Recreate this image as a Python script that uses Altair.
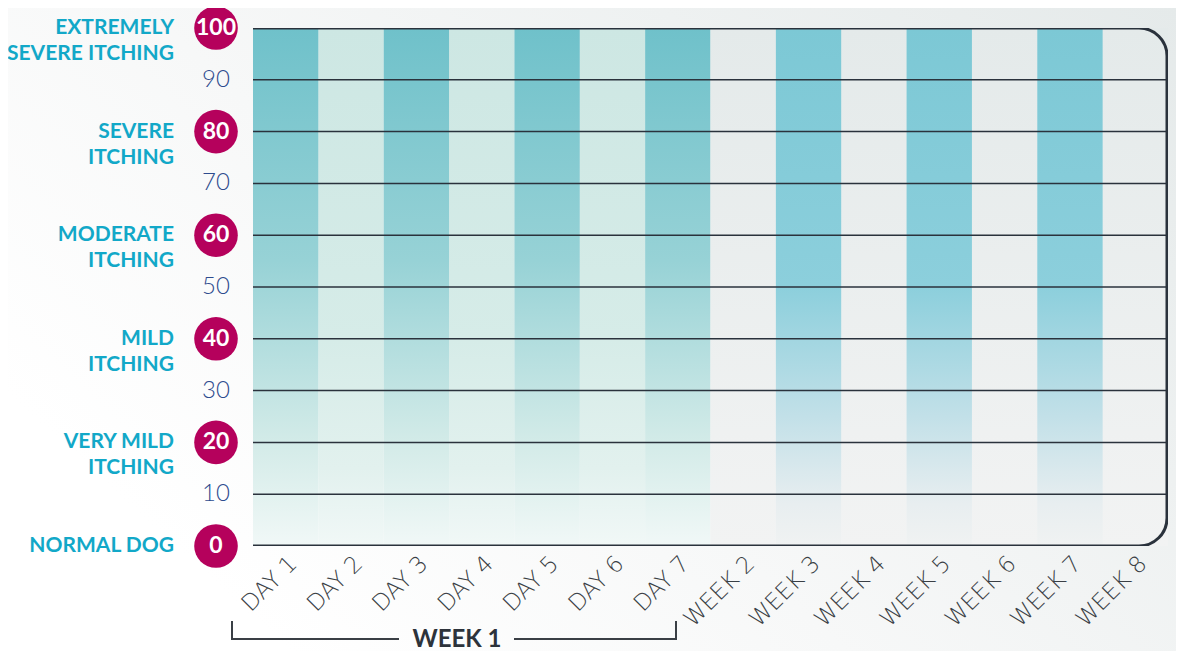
import altair as alt
import pandas as pd

# ---- data ----
categories = ["DAY 1", "DAY 2", "DAY 3", "DAY 4", "DAY 5", "DAY 6", "DAY 7",
              "WEEK 2", "WEEK 3", "WEEK 4", "WEEK 5", "WEEK 6", "WEEK 7", "WEEK 8"]
period = ["day"] * 7 + ["week"] * 7
shade = ["dark", "light", "dark", "light", "dark", "light", "dark",
         "light", "dark", "light", "dark", "light", "dark", "light"]

major_values = [100, 80, 60, 40, 20, 0]
major_names = ["EXTREMELY\nSEVERE ITCHING", "SEVERE\nITCHING", "MODERATE\nITCHING",
               "MILD\nITCHING", "VERY MILD\nITCHING", "NORMAL DOG"]
minor_values = [90, 70, 50, 30, 10]
grid_values = [90, 80, 70, 60, 50, 40, 30, 20, 10]

W, H = 915, 518
PL, PT, PR, PB = 245, 20, 8, 105

cols = pd.DataFrame({"cat": categories, "period": period, "shade": shade})
major = pd.DataFrame({"v": major_values, "name": major_names, "lab": [str(v) for v in major_values]})
minor = pd.DataFrame({"v": minor_values, "lab": [str(v) for v in minor_values]})
grid = pd.DataFrame({"v": grid_values})
one = pd.DataFrame({"a": [0]})

FONT = "Lato"
LINE = "#2a323c"

def grad(stops, x1=0, y1=0, x2=0, y2=1):
    return alt.LinearGradient(
        gradient="linear",
        stops=[alt.GradientStop(offset=o, color=c) for o, c in stops],
        x1=x1, y1=y1, x2=x2, y2=y2)

xscale = alt.Scale(domain=categories, paddingInner=0, paddingOuter=0)
yscale = alt.Scale(domain=[0, 100], nice=False)

# page background
bg = alt.Chart(one).mark_rect(
    color=grad([(0, "#ffffff"), (0.35, "#f7f8f8"), (1, "#e5eaea")], x1=0, y1=0.6, x2=1, y2=0)
).encode(x=alt.value(-PL), x2=alt.value(W + PR), y=alt.value(-PT), y2=alt.value(H + PB))

xenc = alt.X("cat:N", scale=xscale, sort=categories,
             axis=alt.Axis(title=None, labelAngle=-45, labelFont="DejaVu Sans", labelFontSize=23,
                           labelFontWeight=200, labelColor="#3a3f45", labelPadding=6,
                           domain=False, ticks=False, grid=False))

def col_layer(p, s, stops):
    return alt.Chart(cols).transform_filter(
        (alt.datum.period == p) & (alt.datum.shade == s)
    ).mark_rect(color=grad(stops)).encode(
        x=xenc, y=alt.datum(100, scale=yscale), y2=alt.datum(0))

day_dark = col_layer("day", "dark", [(0, "#6fc1ca"), (0.45, "#97d2d6"), (0.8, "#d3ebe8"), (1, "#f1f8f7")])
day_light = col_layer("day", "light", [(0, "#cde7e3"), (0.6, "#d6ece8"), (0.85, "#e2f1ee"), (1, "#f1f8f7")])
week_dark = col_layer("week", "dark", [(0, "#7cc8d5"), (0.5, "#8ccfdc"), (0.75, "#c2e0e8"),
                                        (0.92, "#e8eef0"), (1, "#f0f2f2")])
week_light = col_layer("week", "light", [(0, "#e4eaea"), (1, "#f2f3f3")])

rules = alt.Chart(grid).mark_rule(color=LINE, strokeWidth=1.5).encode(
    y=alt.Y("v:Q", scale=yscale,
            axis=alt.Axis(title=None, labels=False, ticks=False, grid=False,
                          domain=True, domainColor=LINE, domainWidth=2.5)))

frame = alt.Chart(one).mark_rect(
    fillOpacity=0, stroke=LINE, strokeWidth=3, cornerRadius=28, clip=True
).encode(x=alt.value(-40), x2=alt.value(W - 1), y=alt.value(0), y2=alt.value(H))

circles = alt.Chart(major).mark_circle(color="#b5015c", opacity=1, size=1900).encode(
    x=alt.value(-37), y=alt.Y("v:Q", scale=yscale))
circle_txt = alt.Chart(major).mark_text(
    font=FONT, fontSize=23, fontWeight="bold", color="white", align="center", baseline="middle"
).encode(x=alt.value(-37), y=alt.Y("v:Q", scale=yscale), text="lab:N")
names = alt.Chart(major).mark_text(
    font=FONT, fontSize=21, fontWeight="bold", color="#12a8c8", align="right",
    baseline="middle", lineBreak="\n", lineHeight=26
).encode(x=alt.value(-79), y=alt.Y("v:Q", scale=yscale), text="name:N")
minor_txt = alt.Chart(minor).mark_text(
    font=FONT, fontSize=24, fontWeight=300, color="#2d4b8e", align="center", baseline="middle"
).encode(x=alt.value(-37), y=alt.Y("v:Q", scale=yscale), text="lab:N")

# WEEK 1 bracket
BY = H + 93
bl = alt.Chart(one).mark_rule(color="#3a3f45", strokeWidth=2).encode(
    x=alt.value(-21), x2=alt.value(146), y=alt.value(BY))
br = alt.Chart(one).mark_rule(color="#3a3f45", strokeWidth=2).encode(
    x=alt.value(261), x2=alt.value(423), y=alt.value(BY))
tl = alt.Chart(one).mark_rule(color="#3a3f45", strokeWidth=2).encode(
    x=alt.value(-21), y=alt.value(BY - 18), y2=alt.value(BY + 1))
tr = alt.Chart(one).mark_rule(color="#3a3f45", strokeWidth=2).encode(
    x=alt.value(423), y=alt.value(BY - 18), y2=alt.value(BY + 1))
wk = alt.Chart(one).mark_text(
    text="WEEK 1", font=FONT, fontSize=24, fontWeight="bold", color="#2d333b",
    align="center", baseline="middle"
).encode(x=alt.value(204), y=alt.value(BY + 1))

chart = alt.layer(
    bg, day_light, day_dark, week_light, week_dark, rules, frame,
    names, circles, circle_txt, minor_txt, bl, br, tl, tr, wk
).properties(
    width=W, height=H,
    autosize=alt.AutoSizeParams(type="none"),
    padding={"left": PL, "top": PT, "right": PR, "bottom": PB},
).configure_view(stroke=None).configure(background="white")

chart.save("out.html", embed_options={"renderer": "svg", "actions": False})
